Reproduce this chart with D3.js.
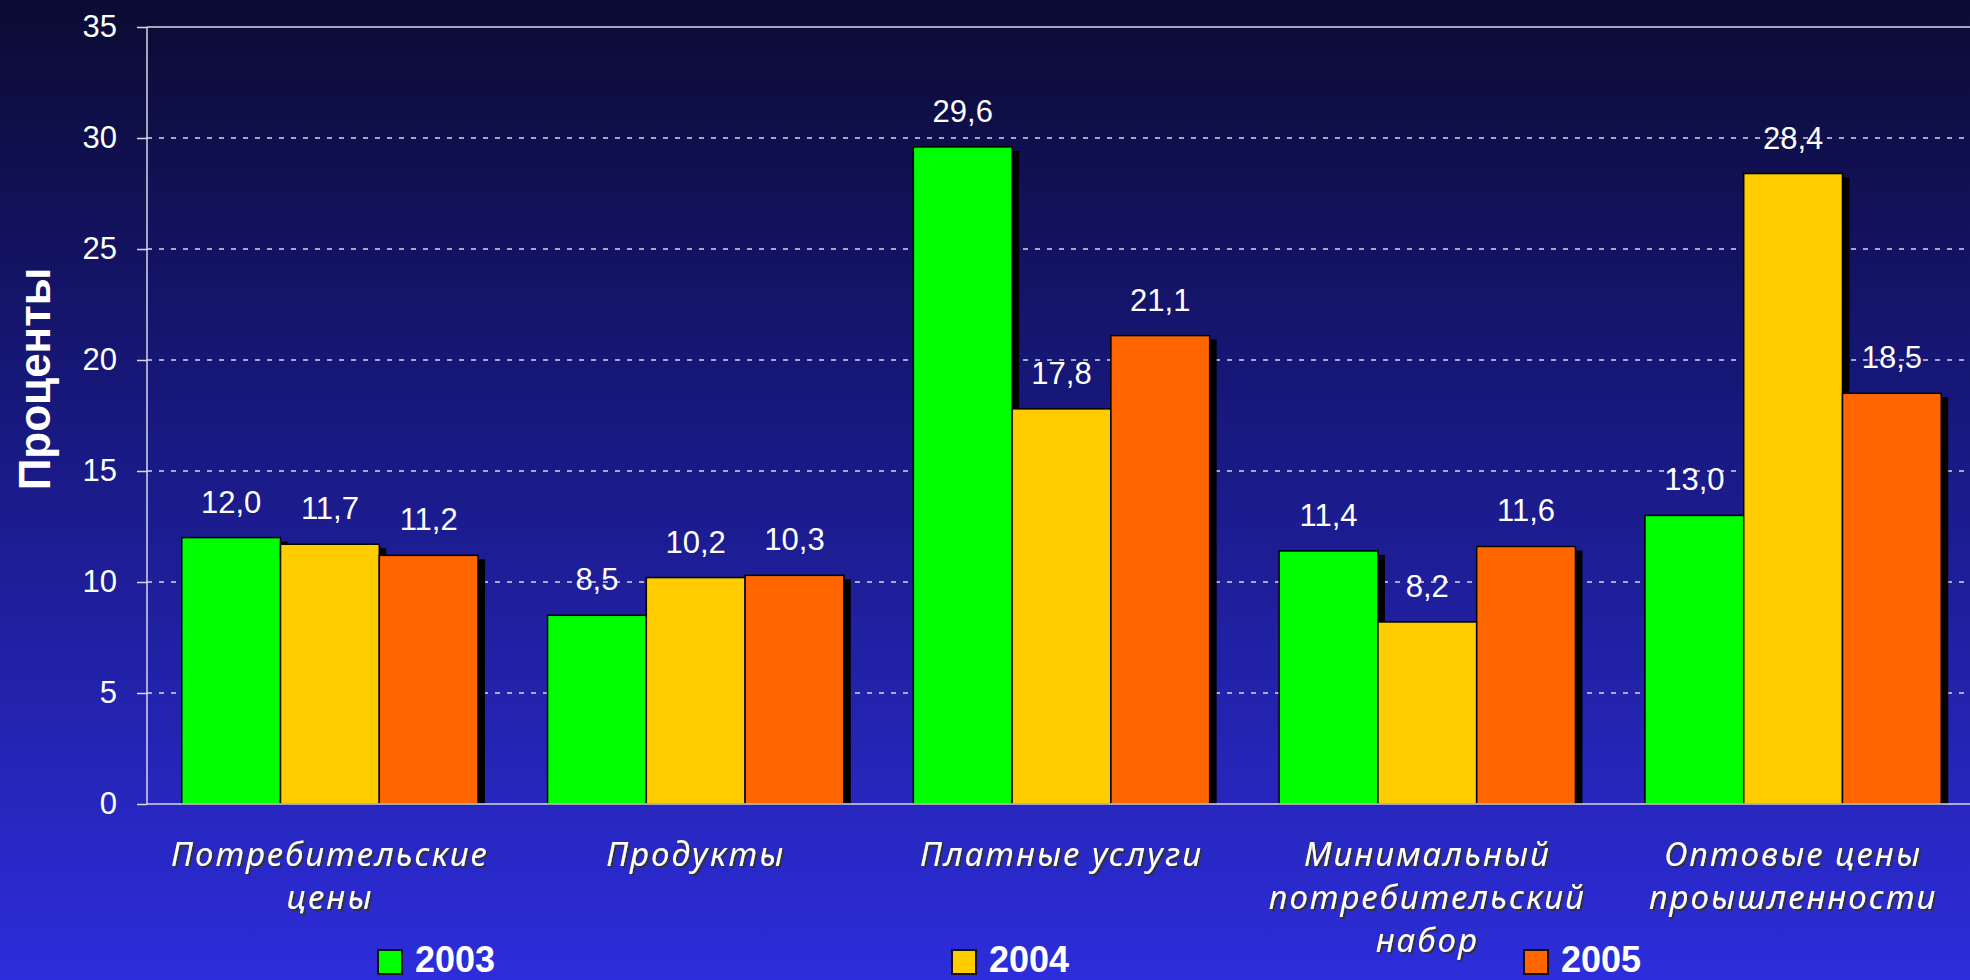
<!DOCTYPE html>
<html>
<head>
<meta charset="utf-8">
<script src="https://cdn.jsdelivr.net/npm/d3@7"></script>
<style>
  html, body { margin: 0; padding: 0; background: #0c0c38; }
  svg { display: block; }
</style>
</head>
<body>
<div id="svgDiv"></div>
<script>
// chart data
var categories = ["Потребительские цены", "Продукты", "Платные услуги", "Минимальный потребительский набор", "Оптовые цены проышленности"];
var categoryLines = [["Потребительские", "цены"], ["Продукты"], ["Платные услуги"], ["Минимальный", "потребительский", "набор"], ["Оптовые цены", "проышленности"]];
var years = ["2003", "2004", "2005"];
var values2003 = [12.0, 8.5, 29.6, 11.4, 13.0];
var values2004 = [11.7, 10.2, 17.8, 8.2, 28.4];
var values2005 = [11.2, 10.3, 21.1, 11.6, 18.5];
var yTicks = [0, 5, 10, 15, 20, 25, 30, 35];
var yTitle = "Проценты";
var colors = ["#00ff00", "#ffcc00", "#ff6600"];

var W = 1970, H = 980;
var seriesValues = [values2003, values2004, values2005];

var svg = d3.select("#svgDiv").append("svg")
            .attr("width", W)
            .attr("height", H);

//background gradient + text shadow filter
var defs = svg.append("defs");
var grad = defs.append("linearGradient")
               .attr("id", "bgGrad")
               .attr("x1", 0).attr("y1", 0).attr("x2", 0).attr("y2", 1);
grad.append("stop").attr("offset", "0%").attr("stop-color", "#0b0b33");
grad.append("stop").attr("offset", "40%").attr("stop-color", "#17177a");
grad.append("stop").attr("offset", "100%").attr("stop-color", "#2d2ddb");
var shadow = defs.append("filter").attr("id", "txtShadow")
                 .attr("x", "-10%").attr("y", "-30%").attr("width", "120%").attr("height", "160%");
shadow.append("feDropShadow")
      .attr("dx", 2).attr("dy", 2).attr("stdDeviation", 0.6)
      .attr("flood-color", "#303030").attr("flood-opacity", 0.9);

svg.append("rect")
   .attr("width", W).attr("height", H)
   .attr("fill", "url(#bgGrad)");

var plotLeft = 147, plotRight = 1976, plotTop = 27, plotBottom = 804;

var y = d3.scaleLinear().domain([0, 35]).range([plotBottom, plotTop]);
var x0 = d3.scaleBand().domain(categories)
           .range([plotLeft, plotRight])
           .paddingInner(0.19).paddingOuter(0.095);
var x1 = d3.scaleBand().domain(years).range([0, x0.bandwidth()]);

//gridlines
var gridGroup = svg.append("g").attr("id", "gridGroup");
gridGroup.selectAll("line")
         .data(yTicks.filter(function(t){ return t > 0; }))
         .enter().append("line")
         .attr("x1", plotLeft).attr("x2", W)
         .attr("y1", function(d){ return y(d); })
         .attr("y2", function(d){ return y(d); })
         .attr("stroke", "#d8d8e8")
         .attr("stroke-width", 1.5)
         .attr("stroke-dasharray", function(d){ return d === 35 ? null : "5,7"; });

//bars
var barGroup = svg.append("g").attr("id", "barGroup");
categories.forEach(function(cat, i){
  years.forEach(function(yr, s){
    var v = seriesValues[s][i];
    var bx = x0(cat) + x1(yr);
    var by = y(v);
    var bw = x1.bandwidth();
    barGroup.append("rect")
            .attr("x", bx + 7).attr("y", by + 4)
            .attr("width", bw).attr("height", Math.max(0, y(0) - by - 4))
            .attr("fill", "#000");
    barGroup.append("rect")
            .attr("x", bx).attr("y", by)
            .attr("width", bw).attr("height", y(0) - by)
            .attr("fill", colors[s])
            .attr("stroke", "#000")
            .attr("stroke-width", 1.5);
  });
});

//value labels
var labelGroup = svg.append("g").attr("id", "labelGroup");
categories.forEach(function(cat, i){
  years.forEach(function(yr, s){
    var v = seriesValues[s][i];
    labelGroup.append("text")
              .attr("x", x0(cat) + x1(yr) + x1.bandwidth() / 2)
              .attr("y", y(v) - 25)
              .attr("text-anchor", "middle")
              .attr("font-family", "Liberation Sans, Arial, sans-serif")
              .attr("font-size", 31)
              .attr("fill", "#fff")
              .text(v.toFixed(1).replace(".", ","));
  });
});

//axes
var yAxis = d3.axisLeft(y).tickValues(yTicks).tickSize(10).tickPadding(20);
var yAxisG = svg.append("g")
                .attr("transform", "translate(" + plotLeft + ",0)")
                .call(yAxis);
yAxisG.select(".domain").attr("stroke", "#d8d8e8").attr("stroke-width", 1.5)
      .attr("d", "M0," + plotTop + "V" + plotBottom);
yAxisG.selectAll(".tick line").attr("stroke", "#d8d8e8").attr("stroke-width", 1.5);
yAxisG.selectAll(".tick text")
      .attr("fill", "#fff")
      .attr("font-family", "Liberation Sans, Arial, sans-serif")
      .attr("font-size", 31);

svg.append("line")
   .attr("x1", plotLeft).attr("x2", W)
   .attr("y1", y(0)).attr("y2", y(0))
   .attr("stroke", "#d8d8e8").attr("stroke-width", 1.5);

//y title
svg.append("text")
   .attr("transform", "translate(50," + 379 + ") rotate(-90)")
   .attr("text-anchor", "middle")
   .attr("font-family", "Liberation Sans, Arial, sans-serif")
   .attr("font-weight", "bold")
   .attr("font-size", 44)
   .attr("fill", "#fff")
   .text(yTitle);

//category labels
var catGroup = svg.append("g").attr("id", "catGroup").attr("filter", "url(#txtShadow)");
categories.forEach(function(cat, i){
  var t = catGroup.append("text")
                  .attr("text-anchor", "middle")
                  .attr("font-family", "Noto Sans, sans-serif")
                  .attr("font-style", "italic")
                  .attr("font-size", 33)
                  .attr("letter-spacing", 2)
                  .attr("fill", "#fff");
  categoryLines[i].forEach(function(line, k){
    t.append("tspan")
     .attr("x", x0(cat) + x0.bandwidth() / 2)
     .attr("y", 866 + k * 43)
     .text(line);
  });
});

//legend
var legendX = [378, 952, 1524];
var legendGroup = svg.append("g").attr("id", "legendGroup");
years.forEach(function(yr, s){
  legendGroup.append("rect")
             .attr("x", legendX[s]).attr("y", 950)
             .attr("width", 24).attr("height", 24)
             .attr("fill", colors[s])
             .attr("stroke", "#111").attr("stroke-width", 2);
  legendGroup.append("text")
             .attr("x", legendX[s] + 37).attr("y", 972)
             .attr("font-family", "Liberation Sans, Arial, sans-serif")
             .attr("font-weight", "bold")
             .attr("font-size", 36)
             .attr("fill", "#fff")
             .text(yr);
});
</script>
</body>
</html>
